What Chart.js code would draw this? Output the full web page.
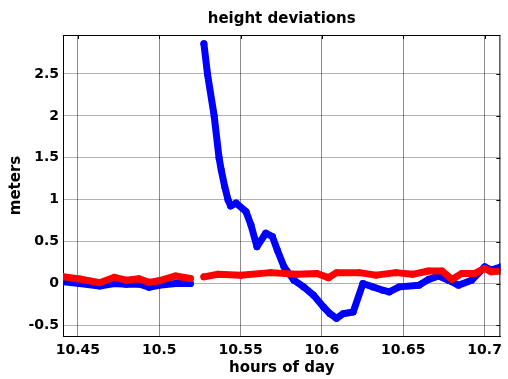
<!DOCTYPE html>
<html>
<head>
<meta charset="utf-8">
<script src="https://cdn.jsdelivr.net/npm/chart.js@4.4.1/dist/chart.umd.min.js"></script>
<style>
    html, body { margin: 0; padding: 0; background: #fff; }
    #wrap { width: 508px; height: 379px; }
</style>
</head>
<body>
<div id="wrap"><canvas id="chart" width="508" height="379"></canvas></div>
<script>
// values (null = gap in the record)
const blueX = [10.4409, 10.4512, 10.4634, 10.4725, 10.4797, 10.4876, 10.4937, 10.4998, 10.5101, 10.5192,
    10.523,
    10.5275, 10.5297, 10.5338, 10.5368, 10.5382, 10.5403, 10.5423,
    10.5439, 10.5473, 10.5534, 10.5564, 10.5601, 10.5655, 10.5696, 10.5726, 10.5767, 10.5828,
    10.5888, 10.5949, 10.6010, 10.6050, 10.6090, 10.6131, 10.6192, 10.6252, 10.6313, 10.6374,
    10.6414, 10.6475, 10.6596, 10.6657, 10.6718, 10.6778, 10.6839, 10.6920, 10.7001, 10.7041, 10.7102];
const blueY = [0.02, 0.0, -0.03, 0.0, -0.01, -0.006, -0.045, -0.02, 0.0, 0.0,
    null,
    2.86, 2.5, 2.0, 1.5, 1.35, 1.155, 1.0,
    0.925, 0.96, 0.857, 0.70, 0.44, 0.6, 0.56, 0.4, 0.2, 0.04,
    -0.04, -0.14, -0.28, -0.36, -0.415, -0.36, -0.34, 0.0, -0.04, -0.08,
    -0.1, -0.04, -0.02, 0.05, 0.09, 0.04, -0.02, 0.04, 0.2, 0.16, 0.2];

const redX = [10.4409, 10.4512, 10.4634, 10.4725, 10.4797, 10.4876, 10.4937, 10.4998, 10.5101, 10.5192,
    10.523,
    10.5275, 10.5362, 10.5501, 10.5684, 10.5848, 10.5969, 10.604, 10.609, 10.623, 10.6333,
    10.6455, 10.6556, 10.6655, 10.6738, 10.68, 10.686, 10.694, 10.7001, 10.7041, 10.7102];
const redY = [0.08, 0.054, 0.01, 0.074, 0.04, 0.057, 0.014, 0.033, 0.09, 0.06,
    null,
    0.08, 0.11, 0.1, 0.13, 0.11, 0.12, 0.07, 0.13, 0.13, 0.1,
    0.13, 0.11, 0.15, 0.15, 0.05, 0.12, 0.12, 0.18, 0.14, 0.15];

const xTicks = [10.45, 10.5, 10.55, 10.6, 10.65, 10.7];
const xTickLabels = ['10.45', '10.5', '10.55', '10.6', '10.65', '10.7'];
const yTicks = [-0.5, 0, 0.5, 1, 1.5, 2, 2.5];
const yTickLabels = ['-0.5', '0', '0.5', '1', '1.5', '2', '2.5'];

const FONT = "'DejaVu Sans', sans-serif";

function toPoints(xs, ys) {
    return xs.map((x, i) => ({ x: x, y: ys[i] }));
}

function series(label, xs, ys, color) {
    return {
        label: label,
        data: toPoints(xs, ys),
        showLine: true,
        spanGaps: false,
        borderColor: color,
        backgroundColor: color,
        borderWidth: 7,
        borderCapStyle: 'round',
        borderJoinStyle: 'round',
        pointRadius: 3.5,
        pointBorderWidth: 0,
        pointHoverRadius: 3.5
    };
}

// box round the axes, inward ticks on top and right, and the title
const frame = {
    id: 'frame',
    afterDraw(chart) {
        const { ctx, chartArea: a, scales } = chart;
        ctx.save();
        ctx.strokeStyle = '#000';
        ctx.lineWidth = 1;
        ctx.beginPath();
        ctx.moveTo(a.left, a.top + 0.5);
        ctx.lineTo(a.right, a.top + 0.5);
        ctx.moveTo(a.right - 0.5, a.top);
        ctx.lineTo(a.right - 0.5, a.bottom);
        xTicks.forEach(v => {
            const px = Math.round(scales.x.getPixelForValue(v)) + 0.5;
            ctx.moveTo(px, a.top);
            ctx.lineTo(px, a.top + 4);
        });
        yTicks.forEach(v => {
            const py = Math.round(scales.y.getPixelForValue(v)) + 0.5;
            ctx.moveTo(a.right, py);
            ctx.lineTo(a.right - 4, py);
        });
        ctx.stroke();

        ctx.fillStyle = '#000';
        ctx.font = 'bold 15px ' + FONT;
        ctx.textAlign = 'center';
        ctx.textBaseline = 'alphabetic';
        ctx.fillText('height deviations', (a.left + a.right) / 2, 23);
        ctx.restore();
    }
};

new Chart(document.getElementById('chart'), {
    type: 'scatter',
    data: {
        datasets: [
            series('red', redX, redY, '#ff0000'),
            series('blue', blueX, blueY, '#0000ff')
        ]
    },
    options: {
        responsive: false,
        animation: false,
        layout: { padding: { top: 35, right: 2, left: 0, bottom: 0 } },
        plugins: {
            legend: { display: false },
            tooltip: { enabled: false }
        },
        scales: {
            x: {
                type: 'linear',
                min: 10.4409,
                max: 10.7097,
                afterBuildTicks: scale => { scale.ticks = xTicks.map(v => ({ value: v })); },
                afterFit: scale => { scale.height = 43; },
                grid: { color: 'rgba(0,0,0,0.45)', lineWidth: 1, drawTicks: false },
                border: { color: '#000', width: 1 },
                ticks: {
                    padding: 6,
                    color: '#000',
                    font: { family: FONT, size: 14, weight: 'bold' },
                    callback: v => xTickLabels[xTicks.indexOf(v)]
                },
                title: {
                    display: true,
                    text: 'hours of day',
                    color: '#000',
                    font: { family: FONT, size: 15, weight: 'bold' },
                    padding: { top: 0, bottom: 2 }
                }
            },
            y: {
                min: -0.626,
                max: 2.965,
                afterBuildTicks: scale => { scale.ticks = yTicks.map(v => ({ value: v })); },
                afterFit: scale => { scale.width = 63; },
                grid: { color: 'rgba(0,0,0,0.3)', lineWidth: 1, drawTicks: false },
                border: { color: '#000', width: 1 },
                ticks: {
                    padding: 4,
                    color: '#000',
                    font: { family: FONT, size: 14, weight: 'bold' },
                    callback: v => yTickLabels[yTicks.indexOf(v)]
                },
                title: {
                    display: true,
                    text: 'meters',
                    color: '#000',
                    font: { family: FONT, size: 15, weight: 'bold' },
                    padding: { top: 7, bottom: 0 }
                }
            }
        }
    },
    plugins: [frame]
});
</script>
</body>
</html>
